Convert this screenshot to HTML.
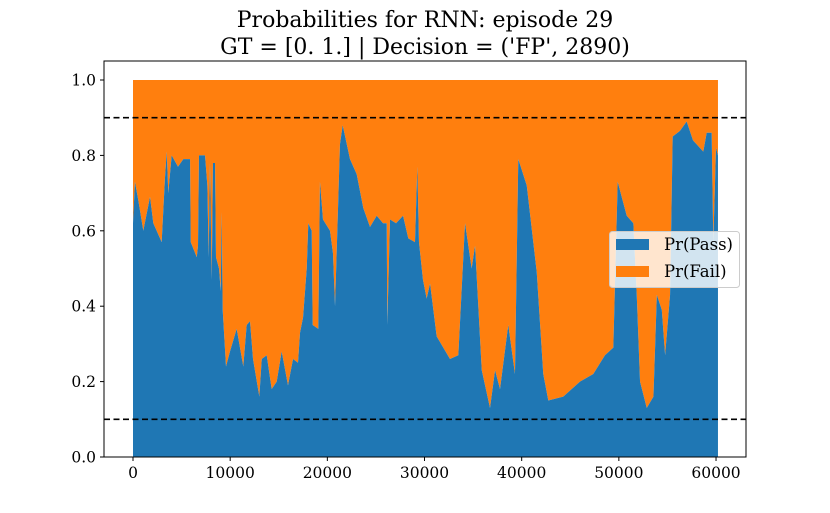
<!DOCTYPE html>
<html><head><meta charset="utf-8"><style>
html,body{margin:0;padding:0;background:#fff;width:830px;height:513px;overflow:hidden}
svg{display:block;font-family:"DejaVu Serif","Liberation Serif",serif}
</style></head><body>
<svg id="chart" width="830" height="513" viewBox="0 0 830 513">
<text x="425" y="27" text-anchor="middle" font-size="22" fill="#000">Probabilities for RNN: episode 29</text>
<text x="425" y="54" text-anchor="middle" font-size="22" fill="#000">GT = [0. 1.] | Decision = ('FP', 2890)</text>
<g id="plot"></g>
</svg>
<script>
const steps = [0,200,550,1060,1750,2090,2950,3290,3470,3630,3980,4630,5180,5870,5940,6560,6690,6790,7410,7650,7790,7920,8100,8230,8440,8540,8850,9030,9130,9230,9570,9980,10670,11350,11700,12040,12350,13000,13250,13760,14270,14790,15300,15950,16470,16980,17190,17500,17880,18040,18390,18490,19070,19240,19550,20270,20580,20790,21300,21580,22330,23020,23700,24390,25080,25730,26110,26170,26450,27070,27790,28330,29020,29260,29430,29840,30220,30570,31250,32620,33480,34170,34850,35200,35890,36740,37260,37770,38620,39310,39650,40520,41550,42220,42740,44280,46000,47370,48570,49430,49880,50290,50810,51490,51840,52180,52870,53560,53910,54420,54760,55270,55540,56290,56980,57630,58690,59040,59550,59720,60000,60200];
const passProb = [0.62,0.73,0.68,0.60,0.69,0.62,0.57,0.74,0.81,0.70,0.80,0.77,0.79,0.79,0.57,0.53,0.56,0.80,0.80,0.72,0.53,0.78,0.47,0.78,0.78,0.53,0.50,0.44,0.65,0.39,0.24,0.28,0.34,0.24,0.35,0.36,0.26,0.16,0.26,0.27,0.18,0.20,0.28,0.19,0.26,0.25,0.33,0.37,0.50,0.62,0.60,0.35,0.34,0.73,0.63,0.60,0.54,0.40,0.83,0.88,0.79,0.75,0.66,0.61,0.64,0.62,0.62,0.35,0.63,0.62,0.64,0.58,0.57,0.77,0.57,0.47,0.42,0.46,0.32,0.26,0.27,0.62,0.50,0.56,0.23,0.13,0.23,0.18,0.35,0.22,0.79,0.72,0.49,0.22,0.15,0.16,0.20,0.22,0.27,0.29,0.73,0.69,0.64,0.62,0.43,0.20,0.13,0.16,0.43,0.39,0.27,0.43,0.85,0.865,0.89,0.84,0.81,0.86,0.86,0.57,0.82,0.80];
const xTicks = [0,10000,20000,30000,40000,50000,60000];
const yTicks = [0.0,0.2,0.4,0.6,0.8,1.0];
const thresholds = [0.9,0.1];
const legendLabels = ['Pr(Pass)','Pr(Fail)'];

const L=104,R=746,T=61,B=457;
const xMin=-2985,xMax=63085,yMin=0,yMax=1.0504;
const sx=v=>L+(v-xMin)/(xMax-xMin)*(R-L);
const sy=v=>B-(v-yMin)/(yMax-yMin)*(B-T);
const NS='http://www.w3.org/2000/svg';
const g=document.getElementById('plot');
function mk(t,a,p){const e=document.createElementNS(NS,t);for(const k in a)e.setAttribute(k,a[k]);(p||g).appendChild(e);return e;}

let fd='M'+sx(steps[0])+','+sy(1);
fd+=' L'+sx(steps[steps.length-1])+','+sy(1);
for(let i=steps.length-1;i>=0;i--) fd+=' L'+sx(steps[i])+','+sy(passProb[i]);
fd+='Z';
const fail=mk('path',{d:fd,fill:'#ff7f0e'});


let pd='M'+sx(steps[0])+','+sy(0);
for(let i=0;i<steps.length;i++) pd+=' L'+sx(steps[i])+','+sy(passProb[i]);
pd+=' L'+sx(steps[steps.length-1])+','+sy(0)+'Z';
const pass=mk('path',{d:pd,fill:'#1f77b4'});



thresholds.forEach(t=>{
  const l=mk('line',{x1:L,x2:R,y1:sy(t),y2:sy(t),stroke:'#000','stroke-width':1.6,'stroke-dasharray':'6,3.5'});
  
  
});

const frame=mk('rect',{x:L,y:T,width:R-L,height:B-T,fill:'none',stroke:'#000','stroke-width':1});



xTicks.forEach(v=>{
  const x=sx(v);
  mk('line',{x1:x,x2:x,y1:B,y2:B+4,stroke:'#000'});
  const t=mk('text',{x:x,y:B+21,'text-anchor':'middle','font-size':15.5});
  t.textContent=String(v);
  
  
});
yTicks.forEach(v=>{
  const y=sy(v);
  mk('line',{x1:L-4,x2:L,y1:y,y2:y,stroke:'#000'});
  const t=mk('text',{x:L-8,y:y+5.5,'text-anchor':'end','font-size':15.5});
  t.textContent=v.toFixed(1);
  
  
});

const lg=mk('g',{});


mk('rect',{x:609.5,y:231.5,width:130,height:56,rx:3,fill:'rgba(255,255,255,0.8)',stroke:'#cccccc'},lg);
const cols=['#1f77b4','#ff7f0e'];
legendLabels.forEach((s,i)=>{
  const y=244+i*27;
  mk('rect',{x:616,y:y-5,width:33,height:11,fill:cols[i]},lg);
  const t=mk('text',{x:664,y:y+6,'font-size':16.5},lg);
  t.textContent=s;
  
  
});
</script>
</body></html>
